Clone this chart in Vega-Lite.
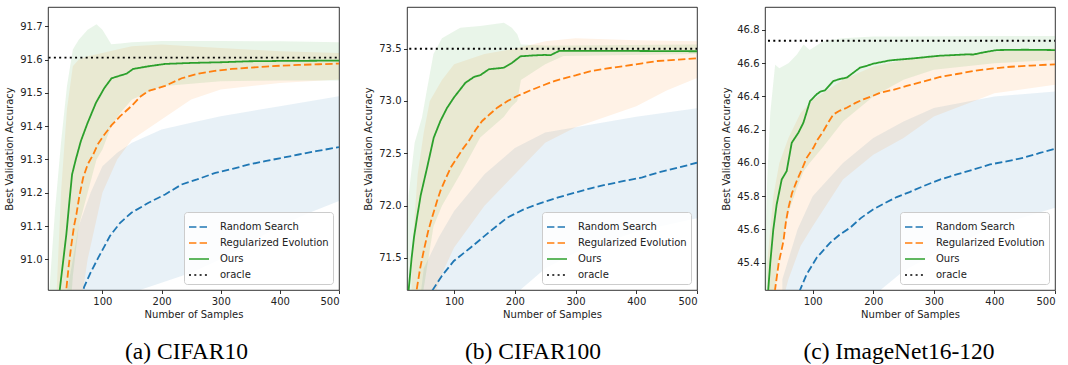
{
"$schema": "https://vega.github.io/schema/vega-lite/v6.json",
"padding": {"left": 4, "top": 6, "right": 8, "bottom": 0},
"background": "white",
"spacing": 68,
"bounds": "flush",
"config": {
  "view": {"stroke": "#000", "strokeWidth": 0.8},
  "axis": {"grid": false, "domain": false, "ticks": true, "tickSize": 3.5, "tickWidth": 0.8, "tickColor": "#000", "labelFont": "DejaVu Sans", "labelFontSize": 10, "labelColor": "#222", "labelPadding": 2.5, "titleFont": "DejaVu Sans", "titleFontSize": 10, "titleFontWeight": "normal", "titleColor": "#222"},
  "axisX": {"titlePadding": 3},
  "axisY": {"titlePadding": 5},
  "legend": {"orient": "bottom-right", "offset": 6, "title": null, "fillColor": "rgba(255,255,255,0.85)", "strokeColor": "#cccccc", "cornerRadius": 3, "padding": 4, "labelFont": "DejaVu Sans", "labelFontSize": 10, "labelColor": "#222", "labelOffset": 10, "symbolType": "stroke", "symbolSize": 400, "rowPadding": -1, "labelLimit": 300},
  "title": {"font": "Liberation Serif", "fontSize": 23.5, "fontWeight": "normal", "color": "#000", "orient": "bottom", "frame": "group", "anchor": "middle", "offset": 21}
},
"datasets": {
"lines": [
{"p":"a","m":"Random Search","x":60,"y":90.85},{"p":"a","m":"Random Search","x":69,"y":90.917},{"p":"a","m":"Random Search","x":80,"y":90.96},{"p":"a","m":"Random Search","x":93,"y":91.005},{"p":"a","m":"Random Search","x":112.7,"y":91.07},{"p":"a","m":"Random Search","x":130,"y":91.11},{"p":"a","m":"Random Search","x":149,"y":91.14},{"p":"a","m":"Random Search","x":178,"y":91.17},{"p":"a","m":"Random Search","x":206,"y":91.195},{"p":"a","m":"Random Search","x":234,"y":91.225},{"p":"a","m":"Random Search","x":260,"y":91.24},{"p":"a","m":"Random Search","x":291,"y":91.26},{"p":"a","m":"Random Search","x":320,"y":91.272},{"p":"a","m":"Random Search","x":348,"y":91.285},{"p":"a","m":"Random Search","x":375,"y":91.295},{"p":"a","m":"Random Search","x":404,"y":91.305},{"p":"a","m":"Random Search","x":432,"y":91.315},{"p":"a","m":"Random Search","x":461,"y":91.325},{"p":"a","m":"Random Search","x":500,"y":91.337},
{"p":"a","m":"Regularized Evolution","x":35,"y":90.85},{"p":"a","m":"Regularized Evolution","x":39,"y":90.91},{"p":"a","m":"Regularized Evolution","x":43,"y":90.98},{"p":"a","m":"Regularized Evolution","x":47.6,"y":91.045},{"p":"a","m":"Regularized Evolution","x":52,"y":91.1},{"p":"a","m":"Regularized Evolution","x":56,"y":91.135},{"p":"a","m":"Regularized Evolution","x":61,"y":91.19},{"p":"a","m":"Regularized Evolution","x":67.4,"y":91.245},{"p":"a","m":"Regularized Evolution","x":75,"y":91.285},{"p":"a","m":"Regularized Evolution","x":84.4,"y":91.315},{"p":"a","m":"Regularized Evolution","x":92,"y":91.345},{"p":"a","m":"Regularized Evolution","x":101.4,"y":91.37},{"p":"a","m":"Regularized Evolution","x":115.5,"y":91.403},{"p":"a","m":"Regularized Evolution","x":130,"y":91.43},{"p":"a","m":"Regularized Evolution","x":149.4,"y":91.461},{"p":"a","m":"Regularized Evolution","x":165,"y":91.49},{"p":"a","m":"Regularized Evolution","x":178,"y":91.506},{"p":"a","m":"Regularized Evolution","x":206,"y":91.521},{"p":"a","m":"Regularized Evolution","x":234,"y":91.544},{"p":"a","m":"Regularized Evolution","x":262.7,"y":91.558},{"p":"a","m":"Regularized Evolution","x":290,"y":91.566},{"p":"a","m":"Regularized Evolution","x":319,"y":91.572},{"p":"a","m":"Regularized Evolution","x":350,"y":91.576},{"p":"a","m":"Regularized Evolution","x":376,"y":91.579},{"p":"a","m":"Regularized Evolution","x":404,"y":91.582},{"p":"a","m":"Regularized Evolution","x":432,"y":91.584},{"p":"a","m":"Regularized Evolution","x":466,"y":91.586},{"p":"a","m":"Regularized Evolution","x":500,"y":91.588},
{"p":"a","m":"Ours","x":25,"y":90.85},{"p":"a","m":"Ours","x":28,"y":90.91},{"p":"a","m":"Ours","x":34,"y":91.0},{"p":"a","m":"Ours","x":39,"y":91.075},{"p":"a","m":"Ours","x":44,"y":91.17},{"p":"a","m":"Ours","x":48.7,"y":91.255},{"p":"a","m":"Ours","x":55,"y":91.3},{"p":"a","m":"Ours","x":63.5,"y":91.355},{"p":"a","m":"Ours","x":75,"y":91.41},{"p":"a","m":"Ours","x":89,"y":91.47},{"p":"a","m":"Ours","x":103,"y":91.514},{"p":"a","m":"Ours","x":115.5,"y":91.544},{"p":"a","m":"Ours","x":141,"y":91.558},{"p":"a","m":"Ours","x":152,"y":91.572},{"p":"a","m":"Ours","x":178,"y":91.58},{"p":"a","m":"Ours","x":206,"y":91.587},{"p":"a","m":"Ours","x":250,"y":91.59},{"p":"a","m":"Ours","x":300,"y":91.592},{"p":"a","m":"Ours","x":347.6,"y":91.595},{"p":"a","m":"Ours","x":400,"y":91.596},{"p":"a","m":"Ours","x":500,"y":91.597},
{"p":"a","m":"oracle","x":0,"y":91.606},{"p":"a","m":"oracle","x":500,"y":91.606},
{"p":"b","m":"Random Search","x":55,"y":71.1},{"p":"b","m":"Random Search","x":65.3,"y":71.2},{"p":"b","m":"Random Search","x":80,"y":71.33},{"p":"b","m":"Random Search","x":99.5,"y":71.471},{"p":"b","m":"Random Search","x":126.9,"y":71.598},{"p":"b","m":"Random Search","x":160,"y":71.758},{"p":"b","m":"Random Search","x":187.5,"y":71.885},{"p":"b","m":"Random Search","x":215,"y":71.965},{"p":"b","m":"Random Search","x":240,"y":72.02},{"p":"b","m":"Random Search","x":270,"y":72.076},{"p":"b","m":"Random Search","x":300,"y":72.125},{"p":"b","m":"Random Search","x":325,"y":72.166},{"p":"b","m":"Random Search","x":350,"y":72.2},{"p":"b","m":"Random Search","x":380,"y":72.236},{"p":"b","m":"Random Search","x":410,"y":72.27},{"p":"b","m":"Random Search","x":435,"y":72.315},{"p":"b","m":"Random Search","x":470,"y":72.365},{"p":"b","m":"Random Search","x":500,"y":72.41},
{"p":"b","m":"Regularized Evolution","x":34,"y":71.0},{"p":"b","m":"Regularized Evolution","x":38.4,"y":71.2},{"p":"b","m":"Regularized Evolution","x":44,"y":71.4},{"p":"b","m":"Regularized Evolution","x":49.9,"y":71.567},{"p":"b","m":"Regularized Evolution","x":57,"y":71.75},{"p":"b","m":"Regularized Evolution","x":63.6,"y":71.885},{"p":"b","m":"Regularized Evolution","x":71.9,"y":72.045},{"p":"b","m":"Regularized Evolution","x":78,"y":72.15},{"p":"b","m":"Regularized Evolution","x":85.6,"y":72.252},{"p":"b","m":"Regularized Evolution","x":95,"y":72.37},{"p":"b","m":"Regularized Evolution","x":104.9,"y":72.458},{"p":"b","m":"Regularized Evolution","x":114,"y":72.54},{"p":"b","m":"Regularized Evolution","x":124.2,"y":72.618},{"p":"b","m":"Regularized Evolution","x":135,"y":72.72},{"p":"b","m":"Regularized Evolution","x":146.2,"y":72.809},{"p":"b","m":"Regularized Evolution","x":160,"y":72.88},{"p":"b","m":"Regularized Evolution","x":171,"y":72.936},{"p":"b","m":"Regularized Evolution","x":188,"y":73.0},{"p":"b","m":"Regularized Evolution","x":204,"y":73.048},{"p":"b","m":"Regularized Evolution","x":225,"y":73.1},{"p":"b","m":"Regularized Evolution","x":248,"y":73.153},{"p":"b","m":"Regularized Evolution","x":265,"y":73.19},{"p":"b","m":"Regularized Evolution","x":281,"y":73.217},{"p":"b","m":"Regularized Evolution","x":300,"y":73.245},{"p":"b","m":"Regularized Evolution","x":325,"y":73.286},{"p":"b","m":"Regularized Evolution","x":350,"y":73.31},{"p":"b","m":"Regularized Evolution","x":380,"y":73.334},{"p":"b","m":"Regularized Evolution","x":410,"y":73.36},{"p":"b","m":"Regularized Evolution","x":435,"y":73.382},{"p":"b","m":"Regularized Evolution","x":470,"y":73.395},{"p":"b","m":"Regularized Evolution","x":500,"y":73.408},
{"p":"b","m":"Ours","x":22,"y":71.0},{"p":"b","m":"Ours","x":25.2,"y":71.2},{"p":"b","m":"Ours","x":30,"y":71.5},{"p":"b","m":"Ours","x":34,"y":71.7},{"p":"b","m":"Ours","x":38.9,"y":71.885},{"p":"b","m":"Ours","x":45,"y":72.1},{"p":"b","m":"Ours","x":55,"y":72.35},{"p":"b","m":"Ours","x":66.4,"y":72.649},{"p":"b","m":"Ours","x":77.4,"y":72.809},{"p":"b","m":"Ours","x":88,"y":72.93},{"p":"b","m":"Ours","x":99.5,"y":73.032},{"p":"b","m":"Ours","x":110,"y":73.11},{"p":"b","m":"Ours","x":118.6,"y":73.174},{"p":"b","m":"Ours","x":132.5,"y":73.229},{"p":"b","m":"Ours","x":143.4,"y":73.248},{"p":"b","m":"Ours","x":157.2,"y":73.303},{"p":"b","m":"Ours","x":182,"y":73.318},{"p":"b","m":"Ours","x":195.7,"y":73.366},{"p":"b","m":"Ours","x":209.4,"y":73.427},{"p":"b","m":"Ours","x":230,"y":73.435},{"p":"b","m":"Ours","x":248,"y":73.44},{"p":"b","m":"Ours","x":259,"y":73.438},{"p":"b","m":"Ours","x":272.8,"y":73.478},{"p":"b","m":"Ours","x":300,"y":73.478},{"p":"b","m":"Ours","x":400,"y":73.478},{"p":"b","m":"Ours","x":500,"y":73.475},
{"p":"b","m":"oracle","x":0,"y":73.499},{"p":"b","m":"oracle","x":500,"y":73.499},
{"p":"c","m":"Random Search","x":70,"y":45.1},{"p":"c","m":"Random Search","x":79.1,"y":45.236},{"p":"c","m":"Random Search","x":90,"y":45.33},{"p":"c","m":"Random Search","x":106.6,"y":45.43},{"p":"c","m":"Random Search","x":128.6,"y":45.52},{"p":"c","m":"Random Search","x":145,"y":45.57},{"p":"c","m":"Random Search","x":161.6,"y":45.61},{"p":"c","m":"Random Search","x":180,"y":45.67},{"p":"c","m":"Random Search","x":200.2,"y":45.721},{"p":"c","m":"Random Search","x":220,"y":45.76},{"p":"c","m":"Random Search","x":238.7,"y":45.795},{"p":"c","m":"Random Search","x":260,"y":45.825},{"p":"c","m":"Random Search","x":282.8,"y":45.861},{"p":"c","m":"Random Search","x":310,"y":45.9},{"p":"c","m":"Random Search","x":337.8,"y":45.931},{"p":"c","m":"Random Search","x":365,"y":45.96},{"p":"c","m":"Random Search","x":392.7,"y":45.991},{"p":"c","m":"Random Search","x":420,"y":46.01},{"p":"c","m":"Random Search","x":447.7,"y":46.031},{"p":"c","m":"Random Search","x":475,"y":46.06},{"p":"c","m":"Random Search","x":500,"y":46.085},
{"p":"c","m":"Regularized Evolution","x":34,"y":45.1},{"p":"c","m":"Regularized Evolution","x":37.8,"y":45.236},{"p":"c","m":"Regularized Evolution","x":44,"y":45.4},{"p":"c","m":"Regularized Evolution","x":51.7,"y":45.53},{"p":"c","m":"Regularized Evolution","x":56,"y":45.65},{"p":"c","m":"Regularized Evolution","x":60,"y":45.73},{"p":"c","m":"Regularized Evolution","x":66,"y":45.82},{"p":"c","m":"Regularized Evolution","x":73.6,"y":45.891},{"p":"c","m":"Regularized Evolution","x":82,"y":45.96},{"p":"c","m":"Regularized Evolution","x":90.1,"y":46.031},{"p":"c","m":"Regularized Evolution","x":101.2,"y":46.091},{"p":"c","m":"Regularized Evolution","x":108,"y":46.14},{"p":"c","m":"Regularized Evolution","x":117.7,"y":46.192},{"p":"c","m":"Regularized Evolution","x":126,"y":46.245},{"p":"c","m":"Regularized Evolution","x":134.2,"y":46.292},{"p":"c","m":"Regularized Evolution","x":145,"y":46.315},{"p":"c","m":"Regularized Evolution","x":156.2,"y":46.332},{"p":"c","m":"Regularized Evolution","x":170,"y":46.36},{"p":"c","m":"Regularized Evolution","x":183.7,"y":46.383},{"p":"c","m":"Regularized Evolution","x":197,"y":46.4},{"p":"c","m":"Regularized Evolution","x":211.1,"y":46.422},{"p":"c","m":"Regularized Evolution","x":233,"y":46.44},{"p":"c","m":"Regularized Evolution","x":255.2,"y":46.463},{"p":"c","m":"Regularized Evolution","x":283,"y":46.49},{"p":"c","m":"Regularized Evolution","x":310.2,"y":46.517},{"p":"c","m":"Regularized Evolution","x":338,"y":46.535},{"p":"c","m":"Regularized Evolution","x":365.3,"y":46.553},{"p":"c","m":"Regularized Evolution","x":392,"y":46.566},{"p":"c","m":"Regularized Evolution","x":420.3,"y":46.577},{"p":"c","m":"Regularized Evolution","x":460,"y":46.586},{"p":"c","m":"Regularized Evolution","x":500,"y":46.593},
{"p":"c","m":"Ours","x":23,"y":45.0},{"p":"c","m":"Ours","x":26.9,"y":45.25},{"p":"c","m":"Ours","x":30,"y":45.4},{"p":"c","m":"Ours","x":35,"y":45.6},{"p":"c","m":"Ours","x":40.6,"y":45.751},{"p":"c","m":"Ours","x":48.9,"y":45.901},{"p":"c","m":"Ours","x":57.1,"y":45.951},{"p":"c","m":"Ours","x":65.4,"y":46.121},{"p":"c","m":"Ours","x":76.4,"y":46.182},{"p":"c","m":"Ours","x":84.7,"y":46.242},{"p":"c","m":"Ours","x":95.6,"y":46.372},{"p":"c","m":"Ours","x":106.6,"y":46.413},{"p":"c","m":"Ours","x":113,"y":46.43},{"p":"c","m":"Ours","x":120.3,"y":46.437},{"p":"c","m":"Ours","x":134.2,"y":46.493},{"p":"c","m":"Ours","x":145,"y":46.505},{"p":"c","m":"Ours","x":156.2,"y":46.513},{"p":"c","m":"Ours","x":166,"y":46.54},{"p":"c","m":"Ours","x":178.1,"y":46.573},{"p":"c","m":"Ours","x":190,"y":46.585},{"p":"c","m":"Ours","x":200,"y":46.597},{"p":"c","m":"Ours","x":227.6,"y":46.617},{"p":"c","m":"Ours","x":266.3,"y":46.629},{"p":"c","m":"Ours","x":290,"y":46.638},{"p":"c","m":"Ours","x":310.2,"y":46.645},{"p":"c","m":"Ours","x":354.3,"y":46.653},{"p":"c","m":"Ours","x":365,"y":46.652},{"p":"c","m":"Ours","x":381.8,"y":46.665},{"p":"c","m":"Ours","x":403.8,"y":46.679},{"p":"c","m":"Ours","x":450,"y":46.681},{"p":"c","m":"Ours","x":500,"y":46.679},
{"p":"c","m":"oracle","x":0,"y":46.735},{"p":"c","m":"oracle","x":500,"y":46.735}
],
"bands": [
{"p":"a","m":"Random Search","x":30,"lo":90.0,"hi":90.7},{"p":"a","m":"Random Search","x":40,"lo":90.2,"hi":90.9},{"p":"a","m":"Random Search","x":60,"lo":90.4,"hi":91.1},{"p":"a","m":"Random Search","x":80,"lo":90.55,"hi":91.2},{"p":"a","m":"Random Search","x":100,"lo":90.65,"hi":91.28},{"p":"a","m":"Random Search","x":125,"lo":90.78,"hi":91.32},{"p":"a","m":"Random Search","x":150,"lo":90.9,"hi":91.35},{"p":"a","m":"Random Search","x":200,"lo":90.93,"hi":91.39},{"p":"a","m":"Random Search","x":250,"lo":90.96,"hi":91.41},{"p":"a","m":"Random Search","x":300,"lo":91.0,"hi":91.43},{"p":"a","m":"Random Search","x":350,"lo":91.05,"hi":91.445},{"p":"a","m":"Random Search","x":400,"lo":91.1,"hi":91.46},{"p":"a","m":"Random Search","x":450,"lo":91.14,"hi":91.475},{"p":"a","m":"Random Search","x":500,"lo":91.175,"hi":91.49},
{"p":"a","m":"Regularized Evolution","x":20,"lo":89.8,"hi":90.8},{"p":"a","m":"Regularized Evolution","x":30,"lo":90.3,"hi":91.2},{"p":"a","m":"Regularized Evolution","x":40,"lo":90.5,"hi":91.45},{"p":"a","m":"Regularized Evolution","x":50,"lo":90.7,"hi":91.58},{"p":"a","m":"Regularized Evolution","x":60,"lo":90.82,"hi":91.6},{"p":"a","m":"Regularized Evolution","x":75,"lo":91.0,"hi":91.61},{"p":"a","m":"Regularized Evolution","x":100,"lo":91.2,"hi":91.62},{"p":"a","m":"Regularized Evolution","x":125,"lo":91.3,"hi":91.63},{"p":"a","m":"Regularized Evolution","x":150,"lo":91.36,"hi":91.64},{"p":"a","m":"Regularized Evolution","x":200,"lo":91.42,"hi":91.645},{"p":"a","m":"Regularized Evolution","x":250,"lo":91.48,"hi":91.64},{"p":"a","m":"Regularized Evolution","x":300,"lo":91.51,"hi":91.635},{"p":"a","m":"Regularized Evolution","x":400,"lo":91.53,"hi":91.625},{"p":"a","m":"Regularized Evolution","x":500,"lo":91.54,"hi":91.62},
{"p":"a","m":"Ours","x":10,"lo":89.5,"hi":90.9},{"p":"a","m":"Ours","x":20,"lo":89.9,"hi":91.15},{"p":"a","m":"Ours","x":30,"lo":90.3,"hi":91.35},{"p":"a","m":"Ours","x":40,"lo":90.7,"hi":91.52},{"p":"a","m":"Ours","x":50,"lo":90.95,"hi":91.63},{"p":"a","m":"Ours","x":60,"lo":91.1,"hi":91.66},{"p":"a","m":"Ours","x":75,"lo":91.2,"hi":91.69},{"p":"a","m":"Ours","x":90,"lo":91.3,"hi":91.706},{"p":"a","m":"Ours","x":100,"lo":91.33,"hi":91.69},{"p":"a","m":"Ours","x":115,"lo":91.4,"hi":91.646},{"p":"a","m":"Ours","x":130,"lo":91.44,"hi":91.648},{"p":"a","m":"Ours","x":150,"lo":91.48,"hi":91.652},{"p":"a","m":"Ours","x":200,"lo":91.52,"hi":91.656},{"p":"a","m":"Ours","x":300,"lo":91.535,"hi":91.656},{"p":"a","m":"Ours","x":400,"lo":91.537,"hi":91.655},{"p":"a","m":"Ours","x":500,"lo":91.537,"hi":91.652},
{"p":"b","m":"Random Search","x":40,"lo":70.0,"hi":70.9},{"p":"b","m":"Random Search","x":50,"lo":70.2,"hi":71.4},{"p":"b","m":"Random Search","x":75,"lo":70.5,"hi":71.7},{"p":"b","m":"Random Search","x":100,"lo":70.7,"hi":71.95},{"p":"b","m":"Random Search","x":150,"lo":70.95,"hi":72.3},{"p":"b","m":"Random Search","x":200,"lo":71.15,"hi":72.55},{"p":"b","m":"Random Search","x":250,"lo":71.4,"hi":72.7},{"p":"b","m":"Random Search","x":300,"lo":71.55,"hi":72.75},{"p":"b","m":"Random Search","x":400,"lo":71.75,"hi":72.85},{"p":"b","m":"Random Search","x":500,"lo":71.88,"hi":72.93},
{"p":"b","m":"Regularized Evolution","x":30,"lo":69.8,"hi":71.5},{"p":"b","m":"Regularized Evolution","x":40,"lo":70.3,"hi":72.3},{"p":"b","m":"Regularized Evolution","x":50,"lo":70.7,"hi":72.7},{"p":"b","m":"Regularized Evolution","x":60,"lo":71.0,"hi":73.0},{"p":"b","m":"Regularized Evolution","x":80,"lo":71.35,"hi":73.2},{"p":"b","m":"Regularized Evolution","x":100,"lo":71.6,"hi":73.35},{"p":"b","m":"Regularized Evolution","x":150,"lo":72.0,"hi":73.45},{"p":"b","m":"Regularized Evolution","x":200,"lo":72.3,"hi":73.5},{"p":"b","m":"Regularized Evolution","x":250,"lo":72.6,"hi":73.57},{"p":"b","m":"Regularized Evolution","x":300,"lo":72.75,"hi":73.6},{"p":"b","m":"Regularized Evolution","x":350,"lo":72.85,"hi":73.59},{"p":"b","m":"Regularized Evolution","x":400,"lo":72.95,"hi":73.58},{"p":"b","m":"Regularized Evolution","x":450,"lo":73.1,"hi":73.575},{"p":"b","m":"Regularized Evolution","x":500,"lo":73.22,"hi":73.57},
{"p":"b","m":"Ours","x":20,"lo":69.5,"hi":71.5},{"p":"b","m":"Ours","x":25,"lo":70.0,"hi":72.1},{"p":"b","m":"Ours","x":35,"lo":70.6,"hi":72.6},{"p":"b","m":"Ours","x":47,"lo":71.1,"hi":72.84},{"p":"b","m":"Ours","x":55,"lo":71.4,"hi":73.1},{"p":"b","m":"Ours","x":66,"lo":71.8,"hi":73.45},{"p":"b","m":"Ours","x":80,"lo":72.0,"hi":73.6},{"p":"b","m":"Ours","x":110,"lo":72.3,"hi":73.7},{"p":"b","m":"Ours","x":143,"lo":72.65,"hi":73.716},{"p":"b","m":"Ours","x":182,"lo":72.85,"hi":73.748},{"p":"b","m":"Ours","x":195,"lo":72.95,"hi":73.7},{"p":"b","m":"Ours","x":204,"lo":73.0,"hi":73.637},{"p":"b","m":"Ours","x":210,"lo":73.2,"hi":73.54},{"p":"b","m":"Ours","x":250,"lo":73.35,"hi":73.53},{"p":"b","m":"Ours","x":280,"lo":73.43,"hi":73.53},{"p":"b","m":"Ours","x":500,"lo":73.45,"hi":73.54},
{"p":"c","m":"Random Search","x":50,"lo":44.4,"hi":45.3},{"p":"c","m":"Random Search","x":75,"lo":44.6,"hi":45.6},{"p":"c","m":"Random Search","x":100,"lo":44.8,"hi":45.8},{"p":"c","m":"Random Search","x":150,"lo":45.0,"hi":46.0},{"p":"c","m":"Random Search","x":200,"lo":45.2,"hi":46.15},{"p":"c","m":"Random Search","x":250,"lo":45.35,"hi":46.25},{"p":"c","m":"Random Search","x":300,"lo":45.45,"hi":46.33},{"p":"c","m":"Random Search","x":400,"lo":45.62,"hi":46.4},{"p":"c","m":"Random Search","x":500,"lo":45.73,"hi":46.43},
{"p":"c","m":"Regularized Evolution","x":25,"lo":44.3,"hi":45.4},{"p":"c","m":"Regularized Evolution","x":35,"lo":44.8,"hi":45.8},{"p":"c","m":"Regularized Evolution","x":45,"lo":45.1,"hi":46.0},{"p":"c","m":"Regularized Evolution","x":60,"lo":45.3,"hi":46.15},{"p":"c","m":"Regularized Evolution","x":80,"lo":45.5,"hi":46.3},{"p":"c","m":"Regularized Evolution","x":100,"lo":45.62,"hi":46.38},{"p":"c","m":"Regularized Evolution","x":150,"lo":45.9,"hi":46.5},{"p":"c","m":"Regularized Evolution","x":200,"lo":46.05,"hi":46.58},{"p":"c","m":"Regularized Evolution","x":250,"lo":46.15,"hi":46.62},{"p":"c","m":"Regularized Evolution","x":300,"lo":46.28,"hi":46.645},{"p":"c","m":"Regularized Evolution","x":400,"lo":46.42,"hi":46.67},{"p":"c","m":"Regularized Evolution","x":500,"lo":46.47,"hi":46.69},
{"p":"c","m":"Ours","x":20,"lo":44.3,"hi":45.3},{"p":"c","m":"Ours","x":25,"lo":44.7,"hi":45.9},{"p":"c","m":"Ours","x":30,"lo":45.0,"hi":46.3},{"p":"c","m":"Ours","x":38,"lo":45.25,"hi":46.59},{"p":"c","m":"Ours","x":45,"lo":45.45,"hi":46.57},{"p":"c","m":"Ours","x":60,"lo":45.7,"hi":46.6},{"p":"c","m":"Ours","x":74,"lo":45.85,"hi":46.653},{"p":"c","m":"Ours","x":85,"lo":45.95,"hi":46.713},{"p":"c","m":"Ours","x":95,"lo":46.0,"hi":46.68},{"p":"c","m":"Ours","x":118,"lo":46.1,"hi":46.733},{"p":"c","m":"Ours","x":150,"lo":46.25,"hi":46.75},{"p":"c","m":"Ours","x":200,"lo":46.4,"hi":46.76},{"p":"c","m":"Ours","x":250,"lo":46.5,"hi":46.76},{"p":"c","m":"Ours","x":300,"lo":46.56,"hi":46.762},{"p":"c","m":"Ours","x":400,"lo":46.6,"hi":46.763},{"p":"c","m":"Ours","x":500,"lo":46.62,"hi":46.763}
]
},
"resolve": {"scale": {"x": "independent", "y": "independent", "fill": "independent", "stroke": "independent", "strokeDash": "independent"}, "legend": {"stroke": "independent", "strokeDash": "independent"}},
"hconcat": [
{
 "width": 291, "height": 283,
 "title": {"text": "(a) CIFAR10", "dx": -7},
 "layer": [
  {"data": {"name": "bands"}, "transform": [{"filter": "datum.p == 'a'"}],
   "mark": {"type": "area", "clip": true, "fillOpacity": 0.1},
   "encoding": {
    "x": {"field": "x", "type": "quantitative", "scale": {"domain": [8, 500], "nice": false, "zero": false}, "axis": {"title": "Number of Samples", "values": [100, 200, 300, 400, 500]}},
    "y": {"field": "lo", "type": "quantitative", "scale": {"domain": [90.908, 91.758], "nice": false, "zero": false}, "axis": {"title": "Best Validation Accuracy", "values": [91.0, 91.1, 91.2, 91.3, 91.4, 91.5, 91.6, 91.7], "format": ".1f"}},
    "y2": {"field": "hi"},
    "fill": {"field": "m", "type": "nominal", "scale": {"domain": ["Random Search", "Regularized Evolution", "Ours"], "range": ["#1f77b4", "#ff7f0e", "#2ca02c"]}, "legend": null}
   }},
  {"data": {"name": "lines"}, "transform": [{"filter": "datum.p == 'a'"}],
   "mark": {"type": "line", "clip": true, "strokeWidth": 1.8},
   "encoding": {
    "x": {"field": "x", "type": "quantitative"},
    "y": {"field": "y", "type": "quantitative"},
    "stroke": {"field": "m", "type": "nominal", "scale": {"domain": ["Random Search", "Regularized Evolution", "Ours", "oracle"], "range": ["#1f77b4", "#ff7f0e", "#2ca02c", "#000000"]}},
    "strokeDash": {"field": "m", "type": "nominal", "scale": {"domain": ["Random Search", "Regularized Evolution", "Ours", "oracle"], "range": [[7.4, 3.2], [7.4, 3.2], [1, 0], [2, 3.3]]}}
   }}
 ]
},
{
 "width": 290, "height": 283,
 "title": {"text": "(b) CIFAR100", "dx": -19},
 "layer": [
  {"data": {"name": "bands"}, "transform": [{"filter": "datum.p == 'b'"}],
   "mark": {"type": "area", "clip": true, "fillOpacity": 0.1},
   "encoding": {
    "x": {"field": "x", "type": "quantitative", "scale": {"domain": [22.4, 500], "nice": false, "zero": false}, "axis": {"title": "Number of Samples", "values": [100, 200, 300, 400, 500]}},
    "y": {"field": "lo", "type": "quantitative", "scale": {"domain": [71.194, 73.898], "nice": false, "zero": false}, "axis": {"title": "Best Validation Accuracy", "values": [71.5, 72.0, 72.5, 73.0, 73.5], "format": ".1f"}},
    "y2": {"field": "hi"},
    "fill": {"field": "m", "type": "nominal", "scale": {"domain": ["Random Search", "Regularized Evolution", "Ours"], "range": ["#1f77b4", "#ff7f0e", "#2ca02c"]}, "legend": null}
   }},
  {"data": {"name": "lines"}, "transform": [{"filter": "datum.p == 'b'"}],
   "mark": {"type": "line", "clip": true, "strokeWidth": 1.8},
   "encoding": {
    "x": {"field": "x", "type": "quantitative"},
    "y": {"field": "y", "type": "quantitative"},
    "stroke": {"field": "m", "type": "nominal", "scale": {"domain": ["Random Search", "Regularized Evolution", "Ours", "oracle"], "range": ["#1f77b4", "#ff7f0e", "#2ca02c", "#000000"]}},
    "strokeDash": {"field": "m", "type": "nominal", "scale": {"domain": ["Random Search", "Regularized Evolution", "Ours", "oracle"], "range": [[7.4, 3.2], [7.4, 3.2], [1, 0], [2, 3.3]]}}
   }}
 ]
},
{
 "width": 290, "height": 283,
 "title": {"text": "(c) ImageNet16-120", "dx": -11},
 "layer": [
  {"data": {"name": "bands"}, "transform": [{"filter": "datum.p == 'c'"}],
   "mark": {"type": "area", "clip": true, "fillOpacity": 0.1},
   "encoding": {
    "x": {"field": "x", "type": "quantitative", "scale": {"domain": [21.3, 500], "nice": false, "zero": false}, "axis": {"title": "Number of Samples", "values": [100, 200, 300, 400, 500]}},
    "y": {"field": "lo", "type": "quantitative", "scale": {"domain": [45.236, 46.938], "nice": false, "zero": false}, "axis": {"title": "Best Validation Accuracy", "values": [45.4, 45.6, 45.8, 46.0, 46.2, 46.4, 46.6, 46.8], "format": ".1f"}},
    "y2": {"field": "hi"},
    "fill": {"field": "m", "type": "nominal", "scale": {"domain": ["Random Search", "Regularized Evolution", "Ours"], "range": ["#1f77b4", "#ff7f0e", "#2ca02c"]}, "legend": null}
   }},
  {"data": {"name": "lines"}, "transform": [{"filter": "datum.p == 'c'"}],
   "mark": {"type": "line", "clip": true, "strokeWidth": 1.8},
   "encoding": {
    "x": {"field": "x", "type": "quantitative"},
    "y": {"field": "y", "type": "quantitative"},
    "stroke": {"field": "m", "type": "nominal", "scale": {"domain": ["Random Search", "Regularized Evolution", "Ours", "oracle"], "range": ["#1f77b4", "#ff7f0e", "#2ca02c", "#000000"]}},
    "strokeDash": {"field": "m", "type": "nominal", "scale": {"domain": ["Random Search", "Regularized Evolution", "Ours", "oracle"], "range": [[7.4, 3.2], [7.4, 3.2], [1, 0], [2, 3.3]]}}
   }}
 ]
}
]
}
